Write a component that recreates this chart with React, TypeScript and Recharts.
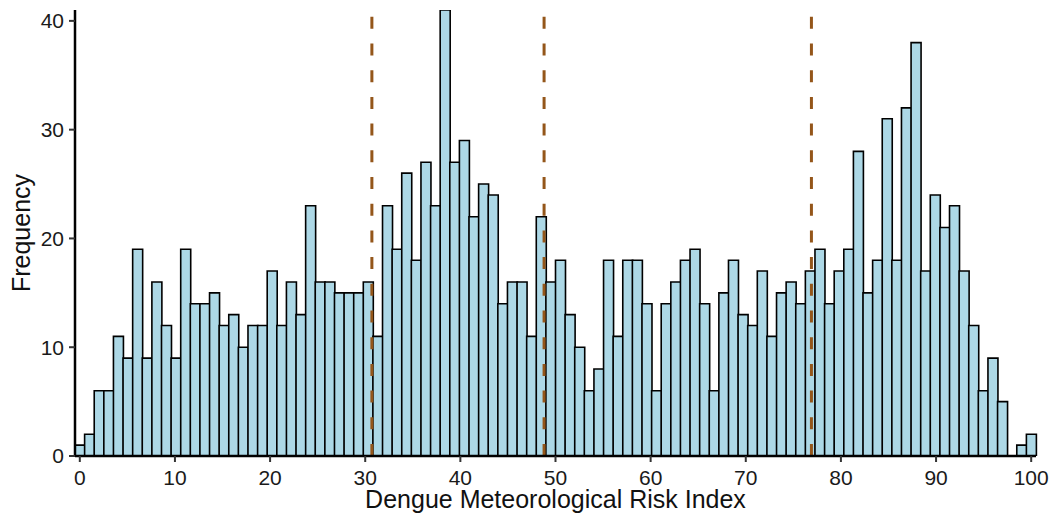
import { BarChart, Bar, XAxis, YAxis, ReferenceLine } from "recharts";

// histogram counts, 100 bins over 0..100 (bin width 100/99, centred on 0 and 100)
const binCounts = [
  1, 2, 6, 6, 11, 9, 19, 9, 16, 12,
  9, 19, 14, 14, 15, 12, 13, 10, 12, 12,
  17, 12, 16, 13, 23, 16, 16, 15, 15, 15,
  16, 11, 23, 19, 26, 18, 27, 23, 41, 27,
  29, 22, 25, 24, 14, 16, 16, 11, 22, 16,
  18, 13, 10, 6, 8, 18, 11, 18, 18, 14,
  6, 14, 16, 18, 19, 14, 6, 15, 18, 13,
  12, 17, 11, 15, 16, 14, 17, 19, 14, 17,
  19, 28, 15, 18, 31, 18, 32, 38, 17, 24,
  21, 23, 17, 12, 6, 9, 5, 0, 1, 2,
];

const xTicks = [0, 10, 20, 30, 40, 50, 60, 70, 80, 90, 100];
const yTicks = [0, 10, 20, 30, 40];
const cutPoints = [30.7, 48.8, 76.9];

const FONT = '"Liberation Sans", Arial, Helvetica, sans-serif';
const halfBin = 50 / 99;

function XTitle(props: any) {
  const vb = props.viewBox || { x: 75, y: 456, width: 961, height: 61 };
  return (
    <text
      x={vb.x + vb.width / 2}
      y={508}
      textAnchor="middle"
      fontSize={25}
      fontFamily={FONT}
      fill="#111"
    >
      Dengue Meteorological Risk Index
    </text>
  );
}

function YTitle(props: any) {
  const vb = props.viewBox || { x: 0, y: 10, width: 75, height: 446 };
  const cx = 21;
  const cy = vb.y + vb.height / 2;
  return (
    <text
      x={cx}
      y={cy}
      transform={`rotate(-90, ${cx}, ${cy})`}
      textAnchor="middle"
      dominantBaseline="central"
      fontSize={25}
      fontFamily={FONT}
      fill="#111"
    >
      Frequency
    </text>
  );
}

export default function App() {
  const data = binCounts.map((count, i) => ({ bin: i, count }));
  return (
    <div style={{ position: "absolute", left: 0, top: 0, background: "#fff" }}>
      <BarChart
        width={1054}
        height={517}
        data={data}
        margin={{ top: 10, right: 18, bottom: 0, left: 0 }}
        barCategoryGap={0}
        barGap={0}
      >
        <XAxis
          xAxisId="num"
          dataKey="bin"
          type="number"
          domain={[-halfBin, 100 + halfBin]}
          allowDataOverflow
          ticks={xTicks}
          interval={0}
          height={61}
          axisLine={{ stroke: "#000", strokeWidth: 2.5 }}
          tickLine={{ stroke: "#333", strokeWidth: 2 }}
          tickSize={6}
          tickMargin={8}
          tick={{ fontSize: 21, fill: "#1a1a1a", fontFamily: FONT }}
          label={<XTitle />}
        />
        <XAxis xAxisId="cat" dataKey="bin" type="category" hide height={0} />
        <YAxis
          width={75}
          domain={[0, 41]}
          allowDataOverflow
          ticks={yTicks}
          interval={0}
          axisLine={{ stroke: "#000", strokeWidth: 2.5 }}
          tickLine={{ stroke: "#333", strokeWidth: 2 }}
          tickSize={6}
          tickMargin={5}
          tick={{ fontSize: 21, fill: "#1a1a1a", fontFamily: FONT }}
          label={<YTitle />}
        />
        <Bar
          xAxisId="cat"
          dataKey="count"
          fill="#ADD8E6"
          stroke="#000"
          strokeWidth={1.6}
          isAnimationActive={false}
        />
        {cutPoints.map((v) => (
          <ReferenceLine
            key={v}
            xAxisId="num"
            x={v}
            stroke="#94561A"
            strokeWidth={3}
            strokeDasharray="12 14.7"
          />
        ))}
      </BarChart>
    </div>
  );
}
